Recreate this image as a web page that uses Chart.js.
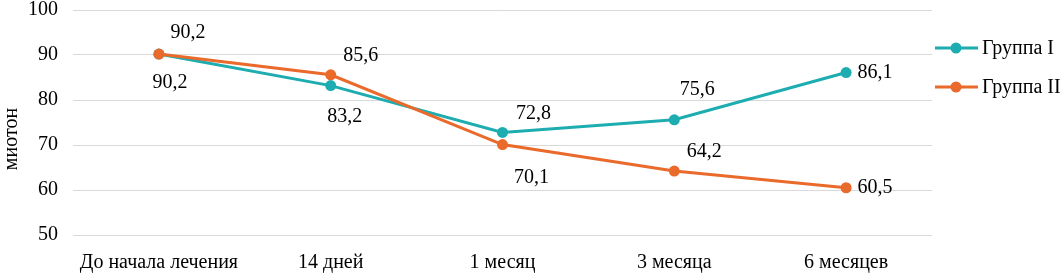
<!DOCTYPE html>
<html>
<head>
<meta charset="utf-8">
<script src="https://cdn.jsdelivr.net/npm/chart.js@4/dist/chart.umd.min.js"></script>
<style>
	html, body { margin: 0; padding: 0; background: #fff; }
	#wrap { width: 1063px; height: 278px; }
</style>
</head>
<body>
<div id="wrap"><canvas id="chart" width="1063" height="278"></canvas></div>
<script>
const categories = ["До начала лечения", "14 дней", "1 месяц", "3 месяца", "6 месяцев"];
const seriesNames = ["Группа I", "Группа II"];
const groupI = [90.2, 83.2, 72.8, 75.6, 86.1];
const groupII = [90.2, 85.6, 70.1, 64.2, 60.5];
const yMin = 50;
const yMax = 100;
const yStep = 10;
const yTitle = "миотон";

// where each value label sits relative to its point (dx, dy in px)
const labelShiftI = [[11, 29], [14, 31], [31, -19], [23, -30], [29, 0]];
const labelShiftII = [[29, -21], [30, -19], [29, 33], [30, -19], [29, 0]];

const colors = ["#1dadb1", "#ea6a2b"];
const font = "Liberation Serif";
const fontSize = 20;

const valueLabels = {
	id: "valueLabels",
	afterDatasetsDraw(chart) {
		const { ctx } = chart;
		ctx.save();
		ctx.font = `${fontSize}px "${font}"`;
		ctx.fillStyle = "#000";
		ctx.textAlign = "center";
		ctx.textBaseline = "middle";
		[labelShiftI, labelShiftII].forEach((shifts, d) => {
			const meta = chart.getDatasetMeta(d);
			meta.data.forEach((pt, i) => {
				const v = chart.data.datasets[d].data[i];
				const txt = v.toFixed(1).replace(".", ",");
				ctx.fillText(txt, pt.x + shifts[i][0], pt.y + shifts[i][1]);
			});
		});
		ctx.restore();
	},
};

// y title centred on the whole canvas height, legend at the right
const sideLegend = {
	id: "sideLegend",
	afterDraw(chart) {
		const { ctx } = chart;
		const x0 = chart.chartArea.right + 3;
		ctx.save();
		ctx.font = `${fontSize}px "${font}"`;
		ctx.textBaseline = "middle";
		ctx.textAlign = "center";
		ctx.fillStyle = "#000";
		ctx.translate(12, chart.height / 2);
		ctx.rotate(-Math.PI / 2);
		ctx.fillText(yTitle, 0, 0);
		ctx.restore();

		ctx.save();
		ctx.font = `${fontSize}px "${font}"`;
		ctx.textBaseline = "middle";
		ctx.textAlign = "left";
		chart.data.datasets.forEach((ds, i) => {
			const y = 48 + i * 39;
			ctx.strokeStyle = ds.borderColor;
			ctx.lineWidth = 3;
			ctx.beginPath();
			ctx.moveTo(x0, y);
			ctx.lineTo(x0 + 43, y);
			ctx.stroke();
			ctx.fillStyle = ds.borderColor;
			ctx.beginPath();
			ctx.arc(x0 + 21, y, 5.5, 0, Math.PI * 2);
			ctx.fill();
			ctx.fillStyle = "#000";
			ctx.fillText(ds.label, x0 + 47, y + 1);
		});
		ctx.restore();
	},
};

const makeSet = (name, values, color, order) => ({
	label: name,
	data: values,
	borderColor: color,
	backgroundColor: color,
	borderWidth: 3,
	pointRadius: 5.5,
	pointHoverRadius: 5.5,
	pointBorderWidth: 0,
	tension: 0,
	order: order,
});

new Chart(document.getElementById("chart"), {
	type: "line",
	plugins: [valueLabels, sideLegend],
	data: {
		labels: categories,
		datasets: [
			makeSet(seriesNames[0], groupI, colors[0], 2),
			makeSet(seriesNames[1], groupII, colors[1], 1),
		],
	},
	options: {
		responsive: false,
		animation: false,
		events: [],
		layout: { padding: { top: 0, right: 131, left: 0, bottom: 0 } },
		plugins: {
			legend: { display: false },
			tooltip: { enabled: false },
		},
		scales: {
			x: {
				offset: true,
				grid: { display: false, drawTicks: false },
				border: { display: false },
				ticks: {
					color: "#000",
					font: { family: font, size: fontSize },
					padding: 16,
					maxRotation: 0,
					autoSkip: false,
				},
				afterFit: scale => { scale.height = 43; },
			},
			y: {
				min: yMin,
				max: yMax,
				grid: { color: "#d9d9d9", lineWidth: 1, drawTicks: false },
				border: { display: false },
				ticks: {
					stepSize: yStep,
					color: "#000",
					font: { family: font, size: fontSize },
					padding: 15,
				},
				afterFit: scale => {
					scale.width = 73;
					scale.paddingTop = 10;
				},
			},
		},
	},
});
</script>
</body>
</html>
